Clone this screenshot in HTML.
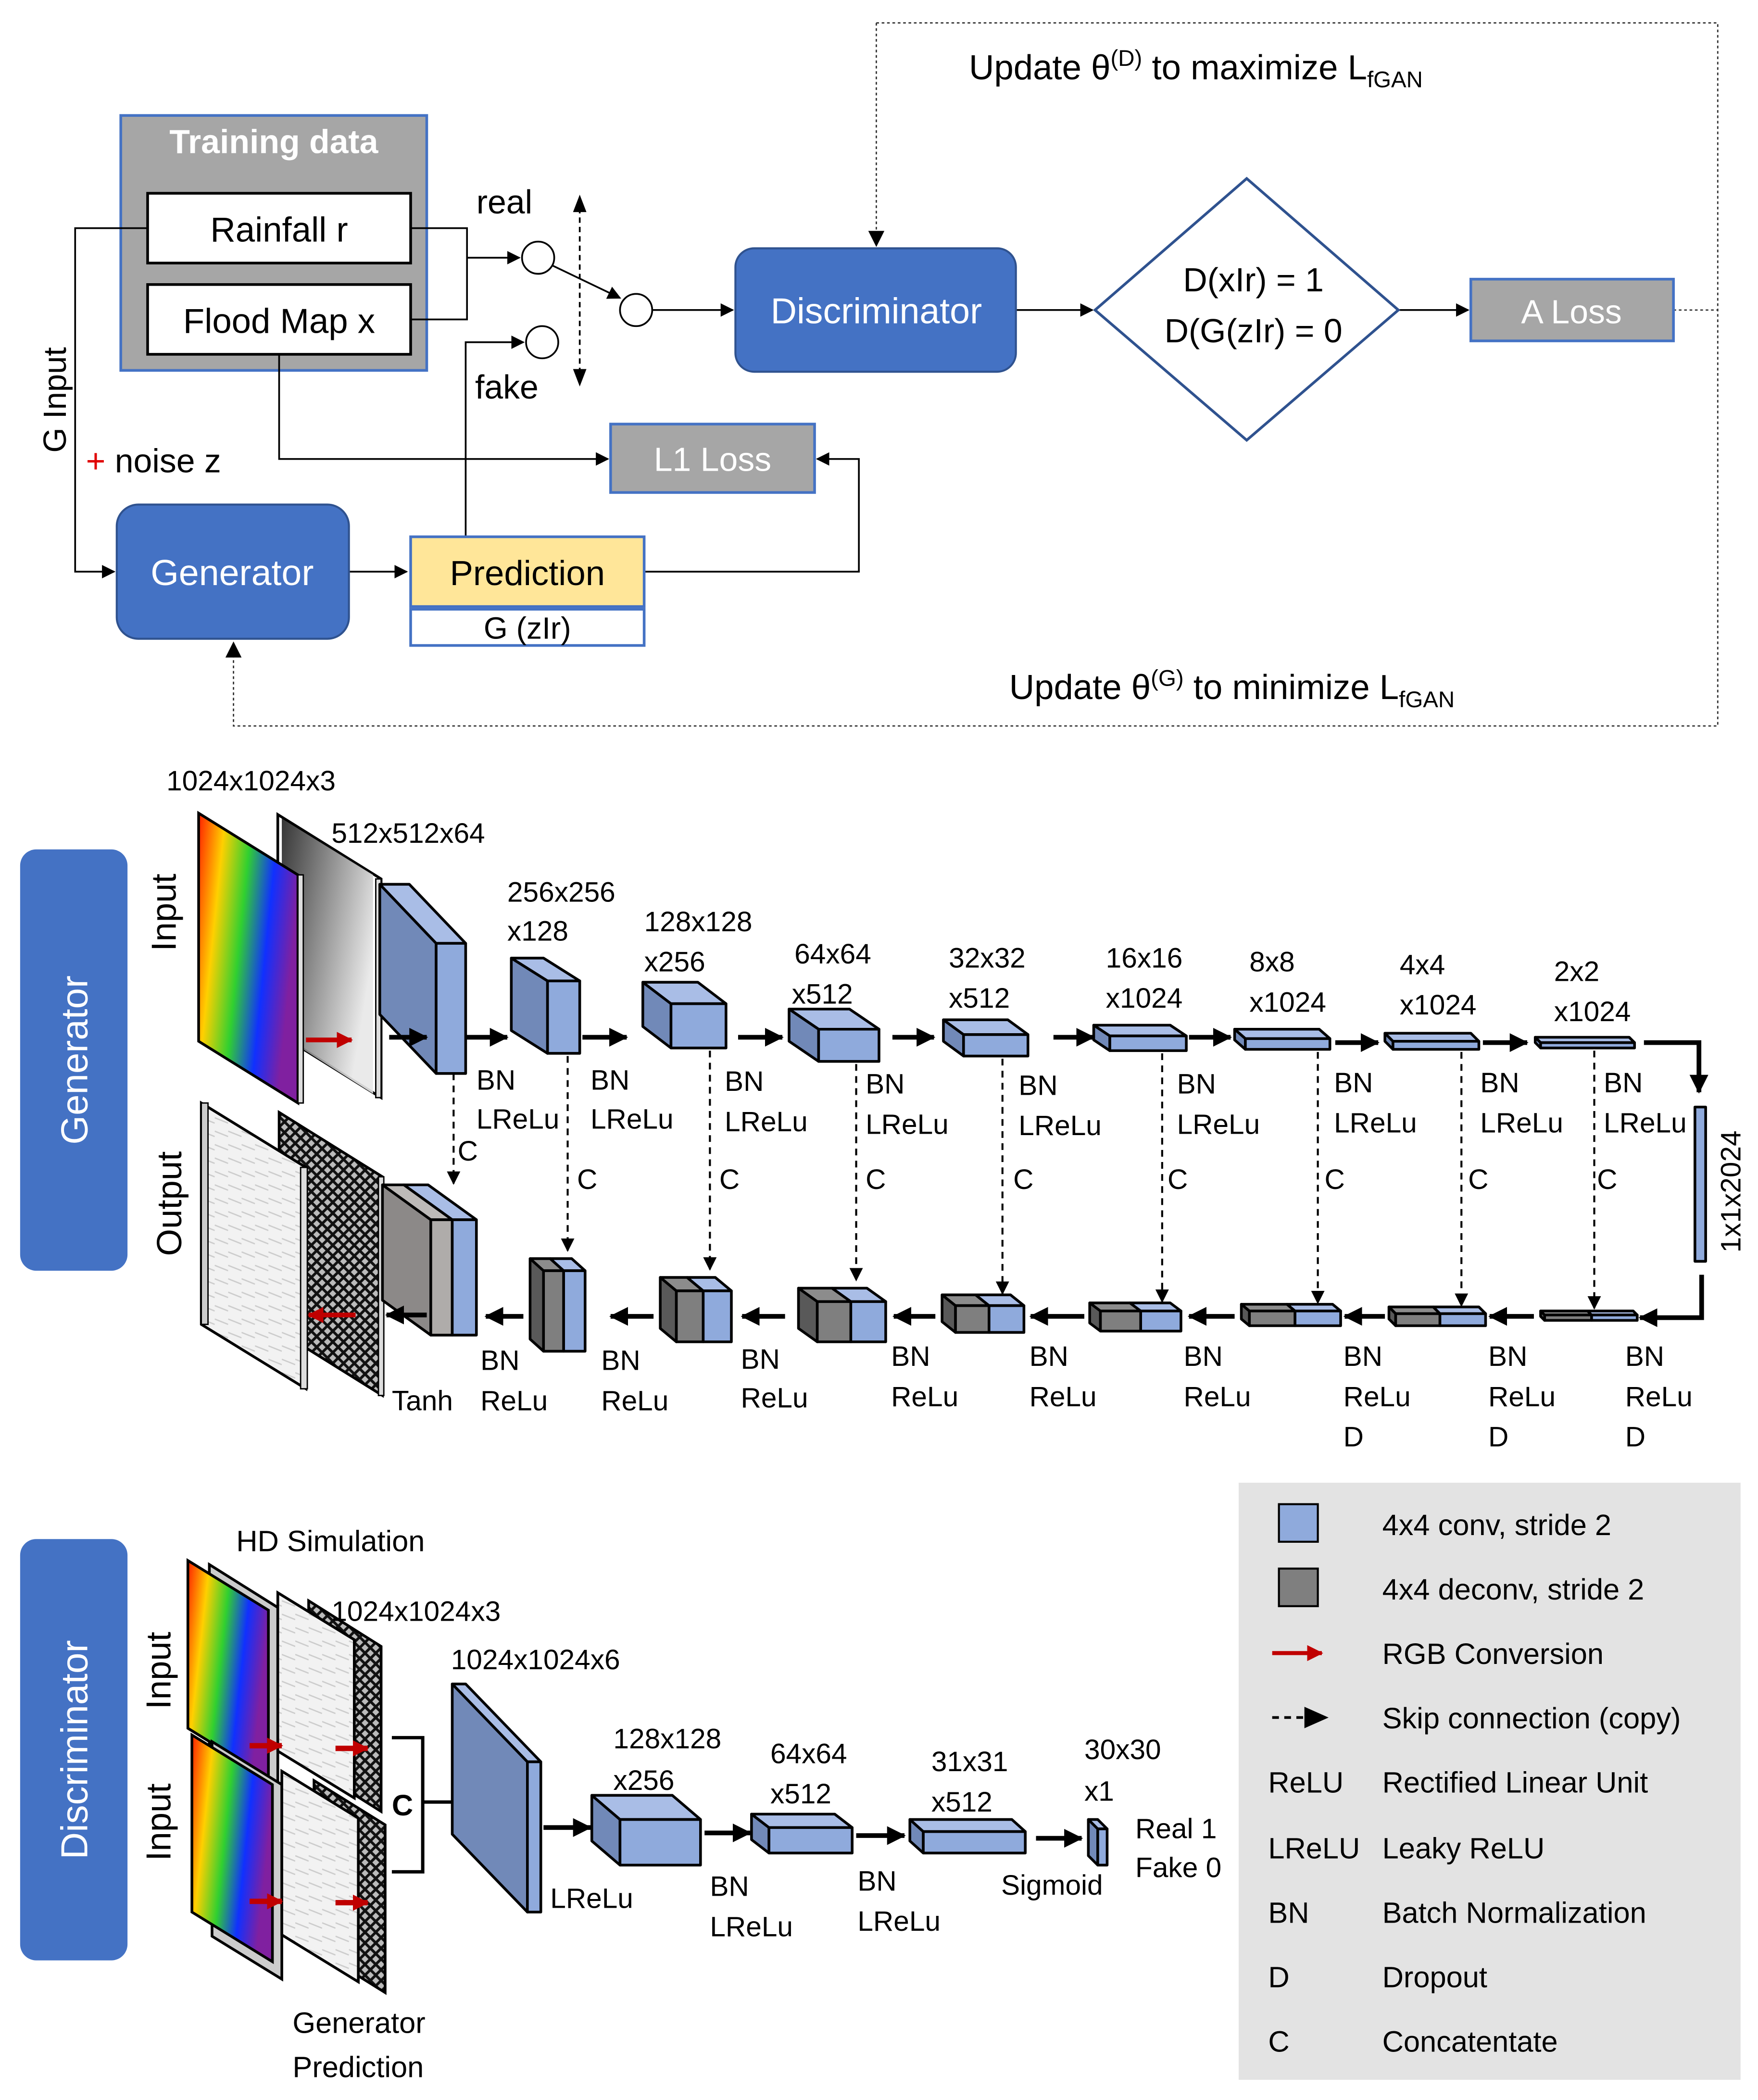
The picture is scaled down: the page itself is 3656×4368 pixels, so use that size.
<!DOCTYPE html>
<html><head><meta charset="utf-8"><style>
html,body{margin:0;padding:0;background:#fff}
svg{display:block}
text{font-family:"Liberation Sans",sans-serif;fill:#000}
</style></head><body>
<svg width="3656" height="4368" viewBox="0 0 1310 1565" xmlns="http://www.w3.org/2000/svg">
<defs>
<marker id="ah" markerWidth="10" markerHeight="10" refX="9" refY="5" orient="auto" markerUnits="userSpaceOnUse"><path d="M0,0 L10,5 L0,10 z" fill="#000"/></marker>
<marker id="ahb" markerWidth="14" markerHeight="14" refX="13" refY="7" orient="auto" markerUnits="userSpaceOnUse"><path d="M0,0 L14,7 L0,14 z" fill="#000"/></marker>
<marker id="ahr" markerWidth="12" markerHeight="12" refX="11" refY="6" orient="auto" markerUnits="userSpaceOnUse"><path d="M0,0 L12,6 L0,12 z" fill="#c00000"/></marker>
<linearGradient id="rb" x1="0" y1="0" x2="1" y2="0.3">
<stop offset="0" stop-color="#ff2000"/><stop offset="0.25" stop-color="#ffd000"/><stop offset="0.5" stop-color="#30d030"/><stop offset="0.75" stop-color="#1030ff"/><stop offset="1" stop-color="#8020a0"/></linearGradient>
<linearGradient id="gr" x1="0" y1="0" x2="1" y2="0.5"><stop offset="0" stop-color="#202020"/><stop offset="1" stop-color="#e8e8e8"/></linearGradient>
<pattern id="dk" width="8" height="8" patternUnits="userSpaceOnUse"><rect width="8" height="8" fill="#bbb"/><path d="M0,0 L8,8 M8,0 L0,8" stroke="#111" stroke-width="2"/></pattern>
<pattern id="wt" width="10" height="10" patternUnits="userSpaceOnUse"><rect width="10" height="10" fill="#f2f2f2"/><path d="M0,3 L10,7" stroke="#ccc" stroke-width="1"/></pattern>
</defs>

<!-- ===== TOP ===== -->
<g fill="none" stroke="#333" stroke-width="1" stroke-dasharray="2,2">
<path d="M653,17 L1280,17 L1280,541 L174,541 L174,485"/>
<path d="M653,17 L653,175"/>
<path d="M1247,231 L1280,231"/>
</g>
<path d="M647,172 L659,172 L653,184 z"/>
<path d="M168,490 L180,490 L174,478 z"/>
<text x="722" y="59" font-size="26">Update θ<tspan font-size="17" dy="-10">(D)</tspan><tspan dy="10"> to maximize L</tspan><tspan font-size="17" dy="6">fGAN</tspan></text>
<text x="752" y="521" font-size="26">Update θ<tspan font-size="17" dy="-10">(G)</tspan><tspan dy="10"> to minimize L</tspan><tspan font-size="17" dy="6">fGAN</tspan></text>

<rect x="90" y="86" width="228" height="190" fill="#a6a6a6" stroke="#4472c4" stroke-width="2"/>
<text x="204" y="114" font-size="25" font-weight="bold" fill="#fff" style="fill:#fff" text-anchor="middle">Training data</text>
<rect x="110" y="144" width="196" height="52" fill="#fff" stroke="#000" stroke-width="2"/>
<text x="208" y="180" font-size="26" text-anchor="middle">Rainfall r</text>
<rect x="110" y="212" width="196" height="52" fill="#fff" stroke="#000" stroke-width="2"/>
<text x="208" y="248" font-size="26" text-anchor="middle">Flood Map x</text>

<g fill="none" stroke="#000" stroke-width="1.3">
<path d="M306,170 L348,170 L348,238 L306,238"/>
<path d="M348,192 L387,192" marker-end="url(#ah)"/>
<path d="M347,400 L347,255 L390,255" marker-end="url(#ah)"/>
<path d="M412,198 L462,222" marker-end="url(#ah)"/>
<path d="M486,231 L546,231" marker-end="url(#ah)"/>
<path d="M757,231 L814,231" marker-end="url(#ah)"/>
<path d="M1042,231 L1094,231" marker-end="url(#ah)"/>
<path d="M208,264 L208,342 L453,342" marker-end="url(#ah)"/>
<path d="M480,426 L640,426 L640,342 L609,342" marker-end="url(#ah)"/>
<path d="M110,170 L56,170 L56,426 L85,426" marker-end="url(#ah)"/>
<path d="M260,426 L303,426" marker-end="url(#ah)"/>
<path d="M432,155 L432,278" stroke-dasharray="4,3"/>
</g>
<path d="M427,158 L437,158 L432,145 z M427,275 L437,275 L432,288 z"/>
<circle cx="401" cy="192" r="12" fill="#fff" stroke="#000" stroke-width="1.3"/>
<circle cx="404" cy="255" r="12" fill="#fff" stroke="#000" stroke-width="1.3"/>
<circle cx="474" cy="231" r="12" fill="#fff" stroke="#000" stroke-width="1.3"/>
<text x="355" y="159" font-size="25">real</text>
<text x="354" y="297" font-size="25">fake</text>

<rect x="548" y="185" width="209" height="92" rx="14" fill="#4472c4" stroke="#2f528f" stroke-width="1.5"/>
<text x="653" y="241" font-size="27" text-anchor="middle" style="fill:#fff">Discriminator</text>
<polygon points="929,133 1042,231 929,328 816,231" fill="#fff" stroke="#2f528f" stroke-width="2"/>
<text x="934" y="217" font-size="25" text-anchor="middle">D(xIr) = 1</text>
<text x="934" y="255" font-size="25" text-anchor="middle">D(G(zIr) = 0</text>
<rect x="1096" y="208" width="151" height="46" fill="#a6a6a6" stroke="#4472c4" stroke-width="2"/>
<text x="1171" y="241" font-size="25" text-anchor="middle" style="fill:#fff">A Loss</text>
<rect x="455" y="316" width="152" height="51" fill="#a6a6a6" stroke="#4472c4" stroke-width="2"/>
<text x="531" y="351" font-size="25" text-anchor="middle" style="fill:#fff">L1 Loss</text>

<text transform="translate(49,298) rotate(-90)" font-size="24" text-anchor="middle">G Input</text>
<text x="64" y="352" font-size="25"><tspan style="fill:#e00000">+</tspan> noise z</text>
<rect x="87" y="376" width="173" height="100" rx="16" fill="#4472c4" stroke="#2f528f" stroke-width="1.5"/>
<text x="173" y="436" font-size="27" text-anchor="middle" style="fill:#fff">Generator</text>
<rect x="306" y="400" width="174" height="52" fill="#ffe699" stroke="#4472c4" stroke-width="2"/>
<text x="393" y="436" font-size="26" text-anchor="middle">Prediction</text>
<rect x="306" y="454" width="174" height="27" fill="#fff" stroke="#4472c4" stroke-width="2"/>
<text x="393" y="476" font-size="23" text-anchor="middle">G (zIr)</text>

<!-- ===== GENERATOR ===== -->
<rect x="15" y="633" width="80" height="314" rx="12" fill="#4472c4"/>
<text transform="translate(65,790) rotate(-90)" font-size="28" text-anchor="middle" style="fill:#fff">Generator</text>
<text transform="translate(131,680) rotate(-90)" font-size="26" text-anchor="middle">Input</text>
<text transform="translate(135,897) rotate(-90)" font-size="26" text-anchor="middle">Output</text>

<!-- input images -->
<polygon points="207,607 284,655 284,818 207,770" fill="#fff" stroke="#000" stroke-width="2"/>
<polygon points="210,610 278,652 278,815 210,772" fill="url(#gr)" opacity="0.9"/>
<polygon points="148,606 222,652 222,822 148,776" fill="url(#rb)" stroke="#000" stroke-width="2"/>
<rect x="222" y="652" width="4" height="170" fill="#ddd" stroke="#000" stroke-width="1"/>
<rect x="280" y="655" width="4" height="163" fill="#ddd" stroke="#000" stroke-width="1"/>
<path d="M228,775 L262,775" stroke="#c00000" stroke-width="3.5" marker-end="url(#ahr)"/>
<!-- output images -->
<polygon points="208,829 285,877 285,1040 208,992" fill="url(#dk)" stroke="#000" stroke-width="2"/>
<polygon points="150,822 228,870 228,1035 150,987" fill="url(#wt)" stroke="#000" stroke-width="2"/>
<rect x="150" y="822" width="5" height="165" fill="#ccc" stroke="#000" stroke-width="1"/>
<rect x="224" y="870" width="5" height="165" fill="#ddd" stroke="#000" stroke-width="1"/>
<rect x="282" y="877" width="4" height="163" fill="#ddd" stroke="#000" stroke-width="1"/>
<path d="M265,980 L230,980" stroke="#c00000" stroke-width="3.5" marker-end="url(#ahr)"/>

<!-- encoder cubes -->
<g stroke="#000" stroke-width="2" stroke-linejoin="round">
<polygon points="325,703 283,659 283,756 325,800" fill="#7189b8"/><polygon points="283,659 305,659 347,703 325,703" fill="#a9bde6"/><rect x="325" y="703" width="22" height="97" fill="#8faadc"/>
<polygon points="408,731 381,714 381,768 408,785" fill="#7189b8"/><polygon points="381,714 405,714 432,731 408,731" fill="#a9bde6"/><rect x="408" y="731" width="24" height="54" fill="#8faadc"/>
<polygon points="500,748 479,732 479,765 500,781" fill="#7189b8"/><polygon points="479,732 520,732 541,748 500,748" fill="#a9bde6"/><rect x="500" y="748" width="41" height="33" fill="#8faadc"/>
<polygon points="610,767 588,752 588,776 610,791" fill="#7189b8"/><polygon points="588,752 633,752 655,767 610,767" fill="#a9bde6"/><rect x="610" y="767" width="45" height="24" fill="#8faadc"/>
<polygon points="718,771 703,760 703,776 718,787" fill="#7189b8"/><polygon points="703,760 751,760 766,771 718,771" fill="#a9bde6"/><rect x="718" y="771" width="48" height="16" fill="#8faadc"/>
<polygon points="827,772 815,764 815,775 827,783" fill="#7189b8"/><polygon points="815,764 872,764 884,772 827,772" fill="#a9bde6"/><rect x="827" y="772" width="57" height="11" fill="#8faadc"/>
<polygon points="928,774 920,767 920,775 928,782" fill="#7189b8"/><polygon points="920,767 983,767 991,774 928,774" fill="#a9bde6"/><rect x="928" y="774" width="63" height="8" fill="#8faadc"/>
<polygon points="1038,776 1032,770 1032,776 1038,782" fill="#7189b8"/><polygon points="1032,770 1096,770 1102,776 1038,776" fill="#a9bde6"/><rect x="1038" y="776" width="64" height="6" fill="#8faadc"/>
<polygon points="1148,777 1144,773 1144,777 1148,781" fill="#7189b8"/><polygon points="1144,773 1214,773 1218,777 1148,777" fill="#a9bde6"/><rect x="1148" y="777" width="70" height="4" fill="#8faadc"/>
<rect x="1263" y="825" width="8" height="115" fill="#8faadc"/>
</g>

<!-- decoder cubes -->
<g stroke="#000" stroke-width="2" stroke-linejoin="round">
<polygon points="321,909 285,883 285,969 321,995" fill="#8c8988"/><polygon points="285,883 301,883 337,909 321,909" fill="#bdbab8"/><polygon points="301,883 319,883 355,909 337,909" fill="#a9bde6"/><rect x="321" y="909" width="16" height="86" fill="#afacaa"/><rect x="337" y="909" width="18" height="86" fill="#8faadc"/>
<polygon points="405,947 395,938 395,998 405,1007" fill="#595959"/><polygon points="395,938 410,938 420,947 405,947" fill="#8c8c8c"/><polygon points="410,938 426,938 436,947 420,947" fill="#a9bde6"/><rect x="405" y="947" width="15" height="60" fill="#7f7f7f"/><rect x="420" y="947" width="16" height="60" fill="#8faadc"/>
<polygon points="504,962 492,952 492,990 504,1000" fill="#595959"/><polygon points="492,952 512,952 524,962 504,962" fill="#8c8c8c"/><polygon points="512,952 533,952 545,962 524,962" fill="#a9bde6"/><rect x="504" y="962" width="20" height="38" fill="#7f7f7f"/><rect x="524" y="962" width="21" height="38" fill="#8faadc"/>
<polygon points="609,970 595,960 595,990 609,1000" fill="#595959"/><polygon points="595,960 620,960 634,970 609,970" fill="#8c8c8c"/><polygon points="620,960 646,960 660,970 634,970" fill="#a9bde6"/><rect x="609" y="970" width="25" height="30" fill="#7f7f7f"/><rect x="634" y="970" width="26" height="30" fill="#8faadc"/>
<polygon points="712,973 702,965 702,985 712,993" fill="#595959"/><polygon points="702,965 727,965 737,973 712,973" fill="#8c8c8c"/><polygon points="727,965 753,965 763,973 737,973" fill="#a9bde6"/><rect x="712" y="973" width="25" height="20" fill="#7f7f7f"/><rect x="737" y="973" width="26" height="20" fill="#8faadc"/>
<polygon points="820,977 812,971 812,986 820,992" fill="#595959"/><polygon points="812,971 842,971 850,977 820,977" fill="#8c8c8c"/><polygon points="842,971 872,971 880,977 850,977" fill="#a9bde6"/><rect x="820" y="977" width="30" height="15" fill="#7f7f7f"/><rect x="850" y="977" width="30" height="15" fill="#8faadc"/>
<polygon points="931,977 925,972 925,983 931,988" fill="#595959"/><polygon points="925,972 959,972 965,977 931,977" fill="#8c8c8c"/><polygon points="959,972 993,972 999,977 965,977" fill="#a9bde6"/><rect x="931" y="977" width="34" height="11" fill="#7f7f7f"/><rect x="965" y="977" width="34" height="11" fill="#8faadc"/>
<polygon points="1040,979 1035,974 1035,983 1040,988" fill="#595959"/><polygon points="1035,974 1068,974 1073,979 1040,979" fill="#8c8c8c"/><polygon points="1068,974 1102,974 1107,979 1073,979" fill="#a9bde6"/><rect x="1040" y="979" width="33" height="9" fill="#7f7f7f"/><rect x="1073" y="979" width="34" height="9" fill="#8faadc"/>
<polygon points="1151,980 1148,977 1148,981 1151,984" fill="#595959"/><polygon points="1148,977 1183,977 1186,980 1151,980" fill="#8c8c8c"/><polygon points="1183,977 1217,977 1220,980 1186,980" fill="#a9bde6"/><rect x="1151" y="980" width="35" height="4" fill="#7f7f7f"/><rect x="1186" y="980" width="34" height="4" fill="#8faadc"/>
</g>

<!-- generator arrows -->
<g stroke="#000" stroke-width="3.5" fill="none">
<path d="M290,773 L318,773" marker-end="url(#ahb)"/>
<path d="M347,773 L378,773" marker-end="url(#ahb)"/>
<path d="M434,773 L467,773" marker-end="url(#ahb)"/>
<path d="M550,773 L583,773" marker-end="url(#ahb)"/>
<path d="M665,773 L696,773" marker-end="url(#ahb)"/>
<path d="M785,773 L815,773" marker-end="url(#ahb)"/>
<path d="M886,773 L917,773" marker-end="url(#ahb)"/>
<path d="M995,777 L1027,777" marker-end="url(#ahb)"/>
<path d="M1105,777 L1138,777" marker-end="url(#ahb)"/>
<path d="M1225,777 L1266,777 L1266,814" marker-end="url(#ahb)"/>
<path d="M1268,950 L1268,982 L1222,982" marker-end="url(#ahb)"/>
<path d="M1143,981 L1110,981" marker-end="url(#ahb)"/>
<path d="M1032,981 L1002,981" marker-end="url(#ahb)"/>
<path d="M920,981 L886,981" marker-end="url(#ahb)"/>
<path d="M808,981 L768,981" marker-end="url(#ahb)"/>
<path d="M697,981 L666,981" marker-end="url(#ahb)"/>
<path d="M585,981 L553,981" marker-end="url(#ahb)"/>
<path d="M487,981 L455,981" marker-end="url(#ahb)"/>
<path d="M390,981 L362,981" marker-end="url(#ahb)"/>
<path d="M318,980 L288,980" marker-end="url(#ahb)"/>
</g>
<!-- skip connections -->
<g stroke="#000" stroke-width="1.5" stroke-dasharray="5,4" fill="none">
<path d="M338,800 L338,882" marker-end="url(#ah)"/>
<path d="M423,787 L423,932" marker-end="url(#ah)"/>
<path d="M529,783 L529,946" marker-end="url(#ah)"/>
<path d="M638,793 L638,954" marker-end="url(#ah)"/>
<path d="M747,789 L747,964" marker-end="url(#ah)"/>
<path d="M866,785 L866,970" marker-end="url(#ah)"/>
<path d="M982,784 L982,971" marker-end="url(#ah)"/>
<path d="M1089,784 L1089,973" marker-end="url(#ah)"/>
<path d="M1188,783 L1188,975" marker-end="url(#ah)"/>
</g>
<g font-size="21">
<text x="124" y="589">1024x1024x3</text>
<text x="247" y="628">512x512x64</text>
<text x="378" y="672">256x256</text><text x="378" y="701">x128</text>
<text x="480" y="694">128x128</text><text x="480" y="724">x256</text>
<text x="592" y="718">64x64</text><text x="590" y="748">x512</text>
<text x="707" y="721">32x32</text><text x="707" y="751">x512</text>
<text x="824" y="721">16x16</text><text x="824" y="751">x1024</text>
<text x="931" y="724">8x8</text><text x="931" y="754">x1024</text>
<text x="1043" y="726">4x4</text><text x="1043" y="756">x1024</text>
<text x="1158" y="731">2x2</text><text x="1158" y="761">x1024</text>
<text x="355" y="812">BN</text><text x="355" y="841">LReLu</text>
<text x="440" y="812">BN</text><text x="440" y="841">LReLu</text>
<text x="540" y="813">BN</text><text x="540" y="843">LReLu</text>
<text x="645" y="815">BN</text><text x="645" y="845">LReLu</text>
<text x="759" y="816">BN</text><text x="759" y="846">LReLu</text>
<text x="877" y="815">BN</text><text x="877" y="845">LReLu</text>
<text x="994" y="814">BN</text><text x="994" y="844">LReLu</text>
<text x="1103" y="814">BN</text><text x="1103" y="844">LReLu</text>
<text x="1195" y="814">BN</text><text x="1195" y="844">LReLu</text>
<text x="341" y="865">C</text><text x="430" y="886">C</text><text x="536" y="886">C</text><text x="645" y="886">C</text><text x="755" y="886">C</text><text x="870" y="886">C</text><text x="987" y="886">C</text><text x="1094" y="886">C</text><text x="1190" y="886">C</text>
<text transform="translate(1297,888) rotate(-90)" text-anchor="middle">1x1x2024</text>
<text x="292" y="1051">Tanh</text>
<text x="358" y="1021">BN</text><text x="358" y="1051">ReLu</text>
<text x="448" y="1021">BN</text><text x="448" y="1051">ReLu</text>
<text x="552" y="1020">BN</text><text x="552" y="1049">ReLu</text>
<text x="664" y="1018">BN</text><text x="664" y="1048">ReLu</text>
<text x="767" y="1018">BN</text><text x="767" y="1048">ReLu</text>
<text x="882" y="1018">BN</text><text x="882" y="1048">ReLu</text>
<text x="1001" y="1018">BN</text><text x="1001" y="1048">ReLu</text><text x="1001" y="1078">D</text>
<text x="1109" y="1018">BN</text><text x="1109" y="1048">ReLu</text><text x="1109" y="1078">D</text>
<text x="1211" y="1018">BN</text><text x="1211" y="1048">ReLu</text><text x="1211" y="1078">D</text>
</g>

<!-- ===== DISCRIMINATOR ===== -->
<rect x="15" y="1147" width="80" height="314" rx="12" fill="#4472c4"/>
<text transform="translate(65,1304) rotate(-90)" font-size="28" text-anchor="middle" style="fill:#fff">Discriminator</text>
<text transform="translate(127,1245) rotate(-90)" font-size="26" text-anchor="middle">Input</text>
<text transform="translate(127,1358) rotate(-90)" font-size="26" text-anchor="middle">Input</text>

<!-- top pair images -->
<polygon points="156,1166 207,1198 207,1335 156,1303" fill="#ccc" stroke="#000" stroke-width="2"/>
<polygon points="140,1163 200,1200 200,1325 140,1288" fill="url(#rb)" stroke="#000" stroke-width="2"/>
<polygon points="230,1193 284,1227 284,1350 230,1316" fill="url(#dk)" stroke="#000" stroke-width="2"/>
<polygon points="207,1187 264,1222 264,1340 207,1305" fill="url(#wt)" stroke="#000" stroke-width="2"/>
<!-- bottom pair -->
<polygon points="158,1298 210,1330 210,1475 158,1443" fill="#ccc" stroke="#000" stroke-width="2"/>
<polygon points="143,1293 203,1330 203,1462 143,1425" fill="url(#rb)" stroke="#000" stroke-width="2"/>
<polygon points="234,1327 287,1360 287,1485 234,1452" fill="url(#dk)" stroke="#000" stroke-width="2"/>
<polygon points="210,1320 267,1355 267,1477 210,1442" fill="url(#wt)" stroke="#000" stroke-width="2"/>
<g stroke="#c00000" stroke-width="4">
<path d="M186,1301 L210,1301" marker-end="url(#ahr)"/>
<path d="M250,1303 L274,1303" marker-end="url(#ahr)"/>
<path d="M186,1417 L210,1417" marker-end="url(#ahr)"/>
<path d="M250,1418 L274,1418" marker-end="url(#ahr)"/>
</g>
<path d="M292,1295 L315,1295 L315,1395 L292,1395 M315,1343 L340,1343" stroke="#000" stroke-width="2.5" fill="none"/>
<path d="M337,1333 L350,1343 L337,1353 z"/>
<text x="292" y="1353" font-size="22" font-weight="bold">C</text>

<g stroke="#000" stroke-width="2" stroke-linejoin="round">
<polygon points="393,1313 337,1255 337,1367 393,1425" fill="#7189b8"/><polygon points="337,1255 347,1255 403,1313 393,1313" fill="#a9bde6"/><rect x="393" y="1313" width="10" height="112" fill="#8faadc"/>
<polygon points="462,1356 441,1338 441,1372 462,1390" fill="#7189b8"/><polygon points="441,1338 501,1338 522,1356 462,1356" fill="#a9bde6"/><rect x="462" y="1356" width="60" height="34" fill="#8faadc"/>
<polygon points="573,1362 560,1352 560,1371 573,1381" fill="#7189b8"/><polygon points="560,1352 622,1352 635,1362 573,1362" fill="#a9bde6"/><rect x="573" y="1362" width="62" height="19" fill="#8faadc"/>
<polygon points="688,1365 678,1356 678,1372 688,1381" fill="#7189b8"/><polygon points="678,1356 754,1356 764,1365 688,1365" fill="#a9bde6"/><rect x="688" y="1365" width="76" height="16" fill="#8faadc"/>
<polygon points="818,1363 811,1356 811,1383 818,1390" fill="#7189b8"/><polygon points="811,1356 818,1356 825,1363 818,1363" fill="#a9bde6"/><rect x="818" y="1363" width="7" height="27" fill="#8faadc"/>
</g>
<g stroke="#000" stroke-width="3.5" fill="none">
<path d="M405,1362 L440,1362" marker-end="url(#ahb)"/>
<path d="M525,1366 L559,1366" marker-end="url(#ahb)"/>
<path d="M638,1368 L674,1368" marker-end="url(#ahb)"/>
<path d="M772,1370 L806,1370" marker-end="url(#ahb)"/>
</g>
<g font-size="21">
<text x="176" y="1156" font-size="22">HD Simulation</text>
<text x="247" y="1208">1024x1024x3</text>
<text x="336" y="1244">1024x1024x6</text>
<text x="457" y="1303">128x128</text><text x="457" y="1334">x256</text>
<text x="574" y="1314">64x64</text><text x="574" y="1344">x512</text>
<text x="694" y="1320">31x31</text><text x="694" y="1350">x512</text>
<text x="808" y="1311">30x30</text><text x="808" y="1342">x1</text>
<text x="846" y="1370">Real 1</text><text x="846" y="1399">Fake 0</text>
<text x="410" y="1422">LReLu</text>
<text x="529" y="1413">BN</text><text x="529" y="1443">LReLu</text>
<text x="639" y="1409">BN</text><text x="639" y="1439">LReLu</text>
<text x="746" y="1412">Sigmoid</text>
<text x="218" y="1515" font-size="22">Generator</text>
<text x="218" y="1548" font-size="22">Prediction</text>
</g>

<!-- legend -->
<rect x="923" y="1105" width="374" height="445" fill="#e3e3e3"/>
<rect x="953" y="1121" width="29" height="28" fill="#8faadc" stroke="#000" stroke-width="1.5"/>
<rect x="953" y="1169" width="29" height="28" fill="#7f7f7f" stroke="#000" stroke-width="1.5"/>
<path d="M948,1232 L985,1232" stroke="#c00000" stroke-width="3" marker-end="url(#ahr)"/>
<path d="M948,1280 L972,1280" stroke="#000" stroke-width="2" stroke-dasharray="5,4"/>
<path d="M972,1272 L990,1280 L972,1288 z"/>
<g font-size="22">
<text x="1030" y="1144">4x4 conv, stride 2</text>
<text x="1030" y="1192">4x4 deconv, stride 2</text>
<text x="1030" y="1240">RGB Conversion</text>
<text x="1030" y="1288">Skip connection (copy)</text>
<text x="945" y="1336">ReLU</text><text x="1030" y="1336">Rectified Linear Unit</text>
<text x="945" y="1385">LReLU</text><text x="1030" y="1385">Leaky ReLU</text>
<text x="945" y="1433">BN</text><text x="1030" y="1433">Batch Normalization</text>
<text x="945" y="1481">D</text><text x="1030" y="1481">Dropout</text>
<text x="945" y="1529">C</text><text x="1030" y="1529">Concatentate</text>
</g>
</svg>
</body></html>
